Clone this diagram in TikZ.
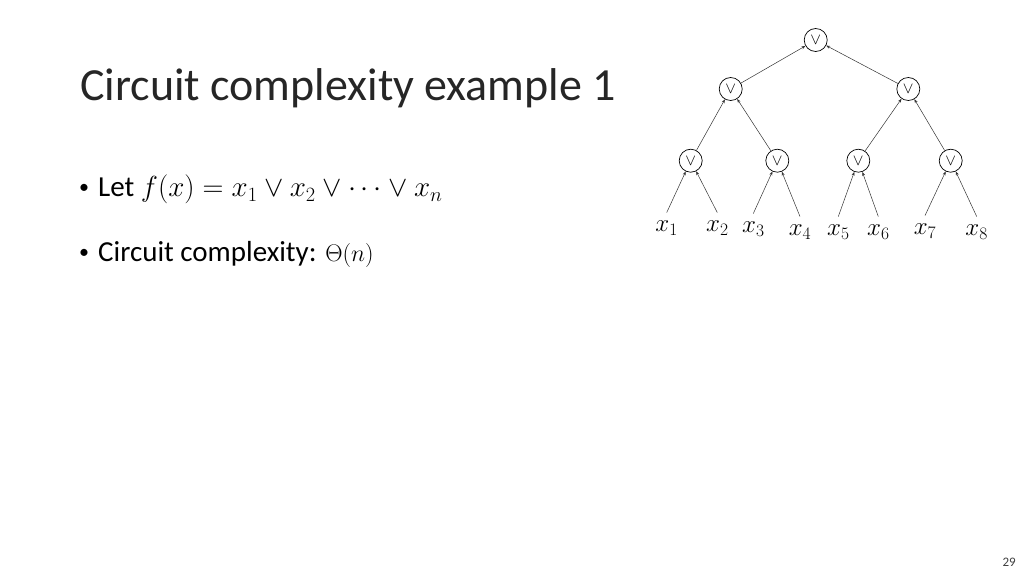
\RequirePackage{fix-cm}
\documentclass[tikz,border=0pt]{standalone}
\usepackage{fontspec}
\setmainfont{Carlito}
\usetikzlibrary{arrows.meta}

\begin{document}
\begin{tikzpicture}[x=1pt, y=-1pt]
        \tikzstyle{every node}=[inner sep=0pt]
        \tikzstyle{gate}=[draw, circle, minimum size=23pt, line width=0.7pt, font=\fontsize{16}{18}\selectfont]
        \tikzstyle{leaf}=[inner xsep=0pt, inner ysep=8pt, font=\fontsize{25}{30}\selectfont]
        \tikzstyle{wire}=[-{Stealth[length=4pt, width=3pt]}, line width=0.5pt, black!80]
        \tikzstyle{body}=[anchor=base west, font=\fontsize{29}{36}\selectfont]
        \tikzstyle{dot}=[anchor=base west, font=\fontsize{20}{24}\selectfont]

        \useasboundingbox (0,0) rectangle (1024,576);

        % slide text
        \node   (title)  [anchor=base west, font=\fontsize{46}{56}\selectfont, black!85] at (80,100) {Circuit complexity example 1};
        \node   (b1)     [dot] at (79,193) {\textbullet};
        \node   (let)    [body] at (98,196.7) {Let $f(x) = x_1 \vee x_2 \vee \cdots \vee x_n$};
        \node   (b2)     [dot] at (79,258) {\textbullet};
        \node   (cc)     [body] at (98,261.7) {Circuit complexity: {\fontsize{24}{30}\selectfont$\Theta(n)$}};
        \node   (page)   [anchor=base east, font=\fontsize{13}{15}\selectfont, black!75] at (1016,566) {29};

        % gates
        \node   (root)   [gate] at (815.7,40)    {$\vee$};
        \node   (h1)     [gate] at (730.7,89)    {$\vee$};
        \node   (h2)     [gate] at (908.3,89)    {$\vee$};
        \node   (g1)     [gate] at (690.7,160.7) {$\vee$};
        \node   (g2)     [gate] at (777.3,160.7) {$\vee$};
        \node   (g3)     [gate] at (858.3,160.7) {$\vee$};
        \node   (g4)     [gate] at (950.7,160.7) {$\vee$};

        % inputs
        \node   (x1)     [leaf] at (666.7,228) {$x_1$};
        \node   (x2)     [leaf] at (717.3,228) {$x_2$};
        \node   (x3)     [leaf] at (753.3,229) {$x_3$};
        \node   (x4)     [leaf] at (800,232)   {$x_4$};
        \node   (x5)     [leaf] at (838.3,232) {$x_5$};
        \node   (x6)     [leaf] at (878.3,232) {$x_6$};
        \node   (x7)     [leaf] at (925,231)   {$x_7$};
        \node   (x8)     [leaf] at (976.7,232) {$x_8$};

        \draw[wire] (x1.north) -- (g1);
        \draw[wire] (x2.north) -- (g1);
        \draw[wire] (x3.north) -- (g2);
        \draw[wire] (x4.north) -- (g2);
        \draw[wire] (x5.north) -- (g3);
        \draw[wire] (x6.north) -- (g3);
        \draw[wire] (x7.north) -- (g4);
        \draw[wire] (x8.north) -- (g4);

        \draw[wire] (g1) -- (h1);
        \draw[wire] (g2) -- (h1);
        \draw[wire] (g3) -- (h2);
        \draw[wire] (g4) -- (h2);
        \draw[wire] (h1) -- (root);
        \draw[wire] (h2) -- (root);

    \end{tikzpicture}
\end{document}
